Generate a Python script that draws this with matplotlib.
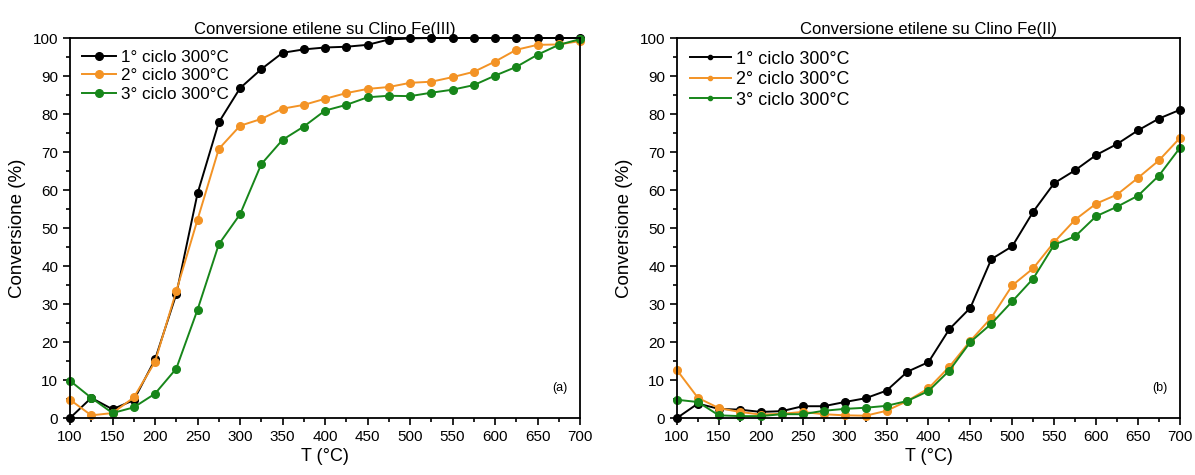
import matplotlib.pyplot as plt
from matplotlib.ticker import MultipleLocator

plt.rcParams['font.family'] = ['Liberation Sans', 'DejaVu Sans']

# temperatures (°C), one point every 25 degrees
temps = [100, 125, 150, 175, 200, 225, 250, 275, 300, 325, 350, 375, 400,
         425, 450, 475, 500, 525, 550, 575, 600, 625, 650, 675, 700]

# Clino Fe(III)
fe3_c1 = [0, 5.3, 2.3, 4.7, 15.4, 32.6, 59.1, 77.8, 86.8, 91.8, 96.1, 97.0, 97.5,
          97.7, 98.2, 99.6, 99.9, 100, 100, 100, 100, 100, 100, 100, 100]
fe3_c2 = [4.8, 0.7, 1.3, 5.4, 14.8, 33.4, 52.2, 70.8, 76.9, 78.7, 81.4, 82.4, 84.0,
          85.5, 86.6, 87.1, 88.2, 88.5, 89.7, 91.1, 93.8, 96.9, 98.2, 98.3, 99.2]
fe3_c3 = [9.8, 5.3, 1.3, 2.8, 6.4, 13.0, 28.5, 45.7, 53.6, 66.8, 73.2, 76.7, 80.9,
          82.4, 84.4, 84.8, 84.7, 85.6, 86.4, 87.6, 90.1, 92.4, 95.6, 98.2, 99.7]

# Clino Fe(II)
fe2_c1 = [0, 3.8, 2.4, 2.2, 1.6, 1.8, 3.1, 3.1, 4.2, 5.2, 7.2, 12.2, 14.7,
          23.4, 29.0, 41.8, 45.2, 54.3, 61.8, 65.2, 69.2, 72.1, 75.7, 78.8, 81.1]
fe2_c2 = [12.6, 5.3, 2.6, 1.6, 0.9, 1.1, 1.6, 1.0, 0.7, 0.6, 1.9, 4.5, 7.8,
          13.5, 20.3, 26.4, 34.9, 39.4, 46.3, 52.2, 56.4, 58.8, 63.2, 67.8, 73.7]
fe2_c3 = [4.8, 4.2, 0.7, 0.5, 0.5, 1.0, 1.0, 1.9, 2.4, 2.7, 3.2, 4.5, 7.1,
          12.5, 20.0, 24.8, 30.7, 36.7, 45.6, 47.8, 53.1, 55.6, 58.5, 63.8, 71.1]

labels = ['1° ciclo 300°C', '2° ciclo 300°C', '3° ciclo 300°C']
colors = ['black', '#f39325', '#17861a']

fig = plt.figure(figsize=(11.95, 4.75), dpi=100)
ax1 = fig.add_axes([0.0586, 0.12, 0.4268, 0.80])
ax2 = fig.add_axes([0.5665, 0.12, 0.4209, 0.80])

panels = [
    (ax1, [fe3_c1, fe3_c2, fe3_c3], 'Conversione etilene su Clino Fe(III)', '(a)', 12.3, 2.0, 1.0),
    (ax2, [fe2_c1, fe2_c2, fe2_c3], 'Conversione etilene su Clino Fe(II)', '(b)', 12.9, 2.3, 0.55),
]

for ax, series, title, tag, leg_fs, hlen, leg_scale in panels:
    for vals, lab, col in zip(series, labels, colors):
        ax.plot(temps, vals, '-o', color=col, label=lab, lw=1.4, ms=5.5, clip_on=False)
    ax.set_xlim(100, 700)
    ax.set_ylim(0, 100)
    ax.xaxis.set_major_locator(MultipleLocator(50))
    ax.xaxis.set_minor_locator(MultipleLocator(25))
    ax.yaxis.set_major_locator(MultipleLocator(10))
    ax.yaxis.set_minor_locator(MultipleLocator(5))
    ax.tick_params(which='major', direction='out', length=5, width=1.2, labelsize=11)
    ax.tick_params(which='minor', direction='out', length=3, width=1.2)
    for s in ax.spines.values():
        s.set_linewidth(1.3)
    ax.set_title(title, fontsize=12, pad=3)
    ax.set_xlabel('T (°C)', fontsize=13, labelpad=3)
    ax.set_ylabel('Conversione (%)', fontsize=13.5, labelpad=5)
    ax.text(0.975, 0.08, tag, transform=ax.transAxes, ha='right', va='center', fontsize=9)
    leg = ax.legend(loc='upper left', frameon=False, fontsize=leg_fs, markerscale=leg_scale,
                    handlelength=hlen, handletextpad=0.3, labelspacing=0.2,
                    borderaxespad=0.3)

fig.savefig('out.png', dpi=100)
